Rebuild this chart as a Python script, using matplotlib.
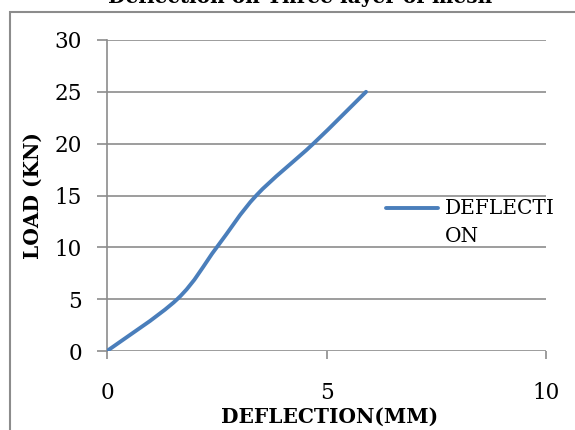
import numpy as np
import matplotlib.pyplot as plt
from matplotlib.path import Path
from matplotlib.patches import PathPatch, Rectangle
from matplotlib.lines import Line2D
from matplotlib.legend_handler import HandlerLine2D

# data
deflection = [0.0, 1.6, 2.5, 3.4, 4.7, 5.9]
load = [0, 5, 10, 15, 20, 25]
series_name = "DEFLECTION"
title = "Deflection on Three layer of mesh"
x_ticks = [0, 5, 10]
y_ticks = [0, 5, 10, 15, 20, 25, 30]

LINE_COLOR = "#4a7ebb"
GRID_COLOR = "#8c8c8c"
SERIF = ["DejaVu Serif"]


def smooth_path(xs, ys, tension=1 / 6):
    """Catmull-Rom style bezier through the points (like Excel's smoothed line)."""
    pts = np.column_stack([xs, ys]).astype(float)
    verts = [pts[0]]
    codes = [Path.MOVETO]
    n = len(pts)
    for i in range(n - 1):
        p0 = pts[max(i - 1, 0)]
        p1 = pts[i]
        p2 = pts[i + 1]
        p3 = pts[min(i + 2, n - 1)]
        c1 = p1 + (p2 - p0) * tension
        c2 = p2 - (p3 - p1) * tension
        verts += [c1, c2, p2]
        codes += [Path.CURVE4] * 3
    return Path(verts, codes)


class RaisedLine(HandlerLine2D):
    """Legend line lined up with the first row of a wrapped label."""
    def __init__(self, shift, **kw):
        super().__init__(**kw)
        self.shift = shift

    def create_artists(self, legend, orig_handle, xdescent, ydescent,
                       width, height, fontsize, trans):
        return super().create_artists(legend, orig_handle, xdescent,
                                      ydescent - self.shift, width, height,
                                      fontsize, trans)


plt.rcParams['font.family'] = SERIF
fig = plt.figure(figsize=(5.75, 4.3), dpi=100)
ax = fig.add_axes([107 / 575, 1 - 351 / 430, (546 - 107) / 575, (351 - 40) / 430])

# outer chart border (runs off the image at right and bottom)
fig.patches.append(Rectangle((10 / 575, -0.1), 1.2, (430 - 12) / 430 + 0.1,
                             transform=fig.transFigure, fill=False,
                             edgecolor=GRID_COLOR, lw=1.5))

ax.add_patch(PathPatch(smooth_path(deflection, load), fill=False,
                       edgecolor=LINE_COLOR, lw=2.8, capstyle='round',
                       joinstyle='round', zorder=3))

ax.set_xlim(0, 10)
ax.set_ylim(0, 30)
ax.set_xticks(x_ticks)
ax.set_yticks(y_ticks)
ax.yaxis.grid(True, color=GRID_COLOR, lw=1.2)
ax.set_axisbelow(True)
for s in ['top', 'right', 'bottom']:
    ax.spines[s].set_visible(False)
ax.spines['left'].set_color(GRID_COLOR)
ax.spines['left'].set_linewidth(1.2)
ax.tick_params(axis='y', length=7.5, color=GRID_COLOR, width=1.2, labelsize=15.5, pad=10.5)
ax.tick_params(axis='x', length=6, color=GRID_COLOR, width=1.2, labelsize=15.5, pad=16)

ax.set_xlabel("DEFLECTION(MM)", fontsize=14.5, fontweight='bold')
ax.xaxis.set_label_coords(0.506, -0.178)
ax.set_ylabel("LOAD (KN)", fontsize=14.5, fontweight='bold')
ax.yaxis.set_label_coords(-0.146, 0.5)

fig.text(300 / 575, 1 - 3 / 430, title, fontsize=14.5, fontweight='bold',
         ha='center', va='baseline')

handle = Line2D([], [], color=LINE_COLOR, lw=2.8, solid_capstyle='round')
leg = ax.legend([handle], ["DEFLECTI\nON"], loc='upper left',
                bbox_to_anchor=(0.6345, 0.49), frameon=False, fontsize=14.5,
                handlelength=2.6, handletextpad=0.35, borderaxespad=0,
                borderpad=0, labelspacing=0,
                handler_map={Line2D: RaisedLine(shift=22)})
for t in leg.get_texts():
    t.set_linespacing(1.65)

fig.savefig("out.png", dpi=100)
